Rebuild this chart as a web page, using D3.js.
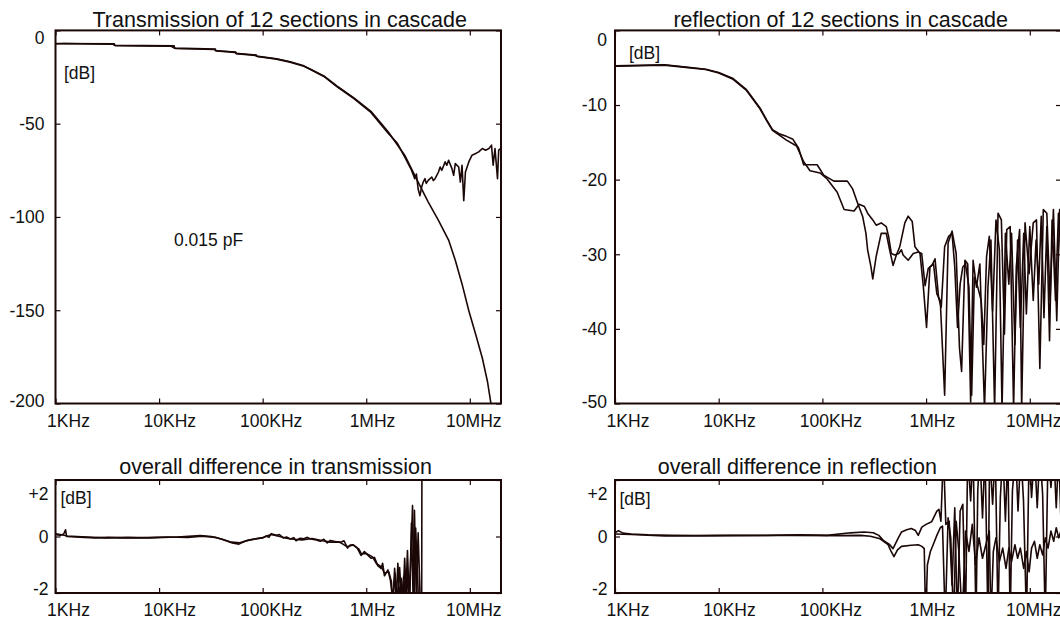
<!DOCTYPE html>
<html>
<head>
<meta charset="utf-8">
<script src="https://cdn.jsdelivr.net/npm/d3@7"></script>
<style>
  body { margin: 0; background: #fff; }
  svg text { font-family: "Liberation Sans", Arial, sans-serif; fill: #111; }
</style>
</head>
<body>
<svg id="chart" width="1060" height="619"></svg>
<script>
const FREQ_TICKS = [1e3, 1e4, 1e5, 1e6, 1e7];
const FREQ_LABELS = ["1KHz", "10KHz", "100KHz", "1MHz", "10MHz"];
const TRANS_TICKS = [0, -50, -100, -150, -200];
const REFL_TICKS = [0, -10, -20, -30, -40, -50];
const DIFF_TICKS = [2, 0, -2];
const DIFF_LABELS = ["+2", "0", "-2"];

// [frequency Hz, dB]
const transModel = [
  [1.0e3, -7.0], [3.7e3, -7.2], [3.7e3, -8.0], [1.4e4, -8.3], [1.4e4, -9.5], [3.5e4, -10.0], [3.5e4, -10.9],
  [5.5e4, -11.6], [5.5e4, -12.3], [8.7e4, -13.2], [8.7e4, -13.8], [1.36e5, -15.2], [1.84e5, -16.8],
  [2.5e5, -19.0], [2.9e5, -20.8], [3.9e5, -24.4], [5.2e5, -29.8], [7.6e5, -36.2], [1.11e6, -43.4],
  [1.62e6, -54.2], [2.35e6, -66.9], [3.17e6, -81.3], [3.69e6, -88.6], [3.97e6, -92.0], [4.98e6, -101.8],
  [6.24e6, -112.4], [7.24e6, -123.2], [8.41e6, -135.9], [9.78e6, -150.3], [1.14e7, -163.0],
  [1.32e7, -175.6], [1.48e7, -188.2], [1.59e7, -199.1], [1.65e7, -206.0]
];
const transMeasured = [
  [1.0e3, -7.3], [1.2e3, -7.0], [3.6e3, -7.4], [3.8e3, -8.2], [1.3e4, -8.5], [1.45e4, -9.7], [3.4e4, -10.2],
  [3.6e4, -11.0], [5.4e4, -11.8], [5.6e4, -12.5], [8.5e4, -13.4], [8.9e4, -14.0], [1.36e5, -15.4],
  [1.84e5, -17.0], [2.5e5, -19.2], [2.9e5, -21.0], [3.9e5, -24.7], [5.2e5, -30.1], [7.6e5, -36.6],
  [1.11e6, -44.0], [1.62e6, -55.0], [2.0e6, -60.5], [2.35e6, -67.8], [2.6e6, -72.5], [2.73e6, -74.8],
  [2.94e6, -79.5], [3.05e6, -77.0], [3.17e6, -85.0], [3.3e6, -88.6], [3.42e6, -84.1], [3.55e6, -81.3],
  [3.69e6, -79.5], [3.8e6, -82.0], [3.97e6, -80.4], [4.29e6, -78.6], [4.45e6, -80.5], [4.62e6, -79.5],
  [4.98e6, -75.9], [5.17e6, -73.2], [5.37e6, -75.0], [5.78e6, -70.5], [6.0e6, -72.3], [6.24e6, -69.6],
  [6.72e6, -74.1], [6.98e6, -77.7], [7.24e6, -71.4], [7.81e6, -73.2], [8.1e6, -81.3], [8.41e6, -72.3],
  [8.74e6, -91.3], [9.07e6, -75.9], [9.78e6, -70.5], [1.05e7, -66.9], [1.14e7, -66.0], [1.22e7, -65.1],
  [1.32e7, -63.3], [1.42e7, -64.2], [1.53e7, -63.3], [1.62e7, -61.5], [1.68e7, -72.3], [1.75e7, -63.3],
  [1.85e7, -79.5], [1.9e7, -64.2], [1.98e7, -63.3], [2.04e7, -66.9]
];
const reflA = [
  [1.0e3, -4.75], [3.0e3, -4.6], [4.8e3, -4.9], [7.5e3, -5.2], [1.0e4, -5.65], [1.36e4, -6.4], [1.84e4, -7.9],
  [2.5e4, -10.4], [2.9e4, -12.0], [3.3e4, -13.3], [3.9e4, -13.9], [4.5e4, -14.2], [5.2e4, -14.6],
  [5.9e4, -15.8], [6.6e4, -18.0], [8.9e4, -18.0], [1.03e5, -19.4], [1.29e5, -20.2], [1.74e5, -20.2],
  [1.95e5, -21.2], [2.18e5, -23.1], [2.44e5, -24.9], [2.63e5, -27.2], [2.73e5, -29.4], [2.94e5, -31.7],
  [3.06e5, -33.3], [3.3e5, -30.3], [3.69e5, -27.2], [4.13e5, -27.2], [4.45e5, -29.4], [4.8e5, -31.5],
  [5.17e5, -30.1], [5.57e5, -29.0], [6.24e5, -25.8], [6.72e5, -24.9], [7.35e5, -25.6], [7.81e5, -29.0],
  [8.74e5, -29.9], [9.42e5, -34.4], [1.01e6, -39.8], [1.09e6, -31.7], [1.18e6, -31.3], [1.27e6, -35.3],
  [1.37e6, -36.2], [1.51e6, -48.9], [1.63e6, -28.5], [1.78e6, -26.9], [1.95e6, -29.9], [2.1e6, -42.6],
  [2.2e6, -45.7], [2.37e6, -30.8], [2.52e6, -31.3], [2.69e6, -49.8], [2.84e6, -30.8], [3.06e6, -34.4],
  [3.3e6, -31.3], [3.66e6, -50.7], [3.95e6, -34.4], [4.22e6, -28.1], [4.58e6, -50.7], [4.94e6, -24.5],
  [5.32e6, -25.4], [5.7e6, -40.7], [6.0e6, -26.7], [6.47e6, -26.3], [6.98e6, -50.7], [7.41e6, -31.7],
  [7.98e6, -26.7], [8.35e6, -50.7], [9.0e6, -25.8], [9.85e6, -32.6], [1.08e7, -25.8], [1.16e7, -25.4],
  [1.25e7, -45.3], [1.35e7, -24.0], [1.46e7, -24.5], [1.57e7, -36.2], [1.69e7, -24.0], [1.82e7, -38.9],
  [1.94e7, -24.0], [2.0e7, -27.2]
];
const reflB = [
  [1.0e3, -4.8], [3.0e3, -4.65], [4.8e3, -4.95], [7.5e3, -5.25], [1.0e4, -5.7], [1.36e4, -6.5], [1.84e4, -8.0],
  [2.5e4, -10.5], [2.9e4, -12.1], [3.3e4, -13.4], [3.9e4, -14.1], [4.5e4, -14.7], [5.65e4, -15.5],
  [6.6e4, -17.6], [7.6e4, -18.8], [9.5e4, -19.1], [1.11e5, -19.9], [1.39e5, -21.7], [1.62e5, -24.0],
  [2.02e5, -24.2], [2.26e5, -23.3], [2.54e5, -23.6], [2.73e5, -24.5], [3.06e5, -25.4], [3.3e5, -26.1],
  [3.69e5, -25.8], [4.13e5, -26.3], [4.35e5, -27.6], [4.62e5, -29.9], [4.98e5, -30.1], [5.45e5, -29.9],
  [5.78e5, -29.4], [6.0e5, -30.1], [6.72e5, -30.8], [7.52e5, -29.9], [8.41e5, -29.7], [9.07e5, -29.9],
  [9.78e5, -34.2], [1.05e6, -31.9], [1.14e6, -31.5], [1.22e6, -30.6], [1.32e6, -35.8], [1.4e6, -37.1],
  [1.51e6, -29.0], [1.65e6, -27.6], [1.78e6, -27.2], [1.89e6, -31.7], [2.01e6, -39.8], [2.13e6, -34.0],
  [2.26e6, -31.7], [2.4e6, -31.3], [2.59e6, -34.4], [2.75e6, -48.9], [2.92e6, -33.1], [3.15e6, -34.4],
  [3.4e6, -36.2], [3.6e6, -42.1], [3.83e6, -30.3], [4.07e6, -27.6], [4.38e6, -37.6], [4.72e6, -25.4],
  [5.09e6, -29.4], [5.4e6, -50.7], [5.82e6, -27.2], [6.28e6, -34.0], [6.67e6, -27.2], [7.19e6, -42.1],
  [7.63e6, -28.1], [8.11e6, -39.8], [8.74e6, -27.2], [9.27e6, -38.0], [1.0e7, -26.3], [1.08e7, -36.2],
  [1.15e7, -28.1], [1.22e7, -34.0], [1.29e7, -24.9], [1.37e7, -38.5], [1.46e7, -26.3], [1.55e7, -41.6],
  [1.64e7, -25.4], [1.77e7, -36.2], [1.89e7, -24.5], [2.0e7, -30.0]
];
const diffTransA = [
  [1.0e3, 0.07], [1.12e3, 0.04], [1.2e3, 0.09], [1.25e3, 0.24], [1.28e3, 0.0], [1.9e3, -0.03], [2.4e3, -0.05],
  [3.2e3, -0.03], [4.3e3, -0.05], [6.3e3, -0.05], [9.1e3, -0.03], [1.2e4, -0.02], [1.9e4, -0.03],
  [2.6e4, 0.01], [3.5e4, -0.03], [4.1e4, -0.11], [5.1e4, -0.23], [5.9e4, -0.27], [6.9e4, -0.15],
  [8.7e4, -0.08], [1.0e5, -0.05], [1.08e5, 0.02], [1.15e5, -0.03], [1.21e5, 0.10], [1.36e5, 0.04],
  [1.45e5, 0.07], [1.58e5, -0.05], [1.7e5, -0.02], [1.84e5, -0.09], [2.0e5, -0.04], [2.1e5, -0.15],
  [2.3e5, -0.06], [2.5e5, -0.08], [2.7e5, -0.03], [2.9e5, -0.09], [3.3e5, -0.12], [3.6e5, -0.17],
  [3.9e5, -0.1], [4.2e5, -0.23], [4.5e5, -0.14], [4.9e5, -0.17], [5.6e5, -0.21], [6.1e5, -0.15],
  [6.6e5, -0.41], [7.0e5, -0.3], [7.4e5, -0.29], [8.2e5, -0.41], [8.9e5, -0.67], [9.6e5, -0.53],
  [1.03e6, -0.65], [1.11e6, -0.77], [1.2e6, -0.74], [1.29e6, -1.03], [1.39e6, -1.13], [1.44e6, -0.95],
  [1.5e6, -1.39], [1.62e6, -1.18], [1.71e6, -1.54], [1.81e6, -2.3], [1.88e6, -1.13], [1.95e6, -2.3],
  [2.02e6, -0.95], [2.1e6, -2.3], [2.18e6, -1.48], [2.26e6, -2.3], [2.35e6, -0.77], [2.44e6, -2.3],
  [2.54e6, -1.25], [2.63e6, -2.3], [2.73e6, 0.48], [2.84e6, -2.3], [2.92e6, 0.93], [3.05e6, -2.3],
  [3.17e6, 0.13], [3.32e6, -2.3], [3.43e6, -2.3], [3.45e6, 3.0]
];
const diffTransB = [
  [1.0e3, 0.1], [1.15e3, 0.06], [1.3e3, 0.02], [2.0e3, -0.02], [3.0e3, -0.05], [5.0e3, -0.03], [8.0e3, -0.05],
  [1.5e4, -0.02], [2.5e4, 0.03], [3.2e4, 0.0], [4.0e4, -0.09], [5.0e4, -0.2], [6.0e4, -0.22], [7.5e4, -0.12],
  [1.0e5, -0.04], [1.2e5, 0.07], [1.4e5, 0.02], [1.7e5, -0.06], [2.0e5, -0.1], [2.4e5, -0.12], [3.0e5, -0.07],
  [3.8e5, -0.15], [4.5e5, -0.2], [5.5e5, -0.19], [6.5e5, -0.36], [7.5e5, -0.3], [8.5e5, -0.45], [9.0e5, -0.62],
  [1.0e6, -0.6], [1.15e6, -0.72], [1.25e6, -0.95], [1.4e6, -1.08], [1.5e6, -1.3], [1.65e6, -1.25],
  [1.75e6, -1.6], [1.8e6, -2.3], [1.9e6, -1.3], [2.0e6, -2.3], [2.1e6, -1.1], [2.2e6, -2.3], [2.3e6, -1.4],
  [2.4e6, -2.3], [2.5e6, -0.5], [2.6e6, -2.3], [2.8e6, 1.1], [2.9e6, -2.3], [3.0e6, 0.3], [3.2e6, -2.3]
];
const diffReflA = [
  [1.0e3, 0.13], [1.08e3, 0.21], [1.19e3, 0.12], [1.43e3, 0.09], [2.09e3, 0.06], [3.5e3, 0.04], [6.4e3, 0.03],
  [1.36e4, 0.04], [2.9e4, 0.04], [6.1e4, 0.06], [1.11e5, 0.04], [1.87e5, 0.13], [2.52e5, 0.16], [3.1e5, 0.13],
  [3.5e5, 0.04], [3.9e5, -0.15], [4.4e5, -0.27], [4.8e5, -0.43], [5.4e5, -0.05], [5.8e5, 0.16], [6.5e5, 0.24],
  [7.2e5, 0.28], [7.9e5, 0.21], [8.4e5, 0.04], [9.1e5, 0.33], [1.0e6, 0.43], [1.13e6, 0.52], [1.27e6, 0.9],
  [1.33e6, 0.96], [1.39e6, 0.54], [1.47e6, 3.0], [1.55e6, 0.43], [1.67e6, 0.54], [1.78e6, -1.72],
  [1.89e6, 1.02], [2.0e6, -3.0], [2.13e6, 0.9], [2.26e6, 1.14], [2.4e6, -3.0], [2.52e6, 3.0], [2.69e6, 1.26],
  [2.84e6, 3.0], [3.03e6, -3.0], [3.15e6, 1.62], [3.3e6, 3.0], [3.5e6, 0.66], [3.7e6, 3.0], [3.95e6, -3.0],
  [4.1e6, 3.0], [4.38e6, 1.14], [4.65e6, 3.0], [4.94e6, -3.0], [5.2e6, 1.38], [5.5e6, 3.0], [5.82e6, 0.54],
  [6.14e6, 3.0], [6.47e6, -3.0], [6.8e6, 1.62], [7.3e6, 3.0], [7.7e6, 0.9], [8.2e6, 3.0], [8.7e6, 1.26],
  [9.3e6, -3.0], [9.85e6, 3.0], [1.04e7, 1.38], [1.11e7, 3.0], [1.18e7, 1.02], [1.25e7, 3.0], [1.33e7, 1.5],
  [1.41e7, -3.0], [1.5e7, 3.0], [1.6e7, 1.74], [1.7e7, 3.0], [1.8e7, 1.02], [1.9e7, 3.0], [2.0e7, 0.5]
];
const diffReflB = [
  [1.0e3, 0.09], [1.43e3, 0.07], [3.0e3, 0.02], [1.0e4, 0.03], [5.0e4, 0.04], [1.5e5, 0.03], [2.35e5, 0.04],
  [2.9e5, 0.01], [3.6e5, -0.08], [4.3e5, -0.29], [4.6e5, -0.53], [4.9e5, -0.71], [5.3e5, -0.47], [5.8e5, -0.35],
  [7.2e5, -0.31], [8.4e5, -0.29], [9.1e5, -0.35], [9.6e5, -0.43], [9.9e5, -3.0], [1.03e6, -1.0], [1.1e6, -0.53],
  [1.17e6, -0.29], [1.27e6, 0.04], [1.37e6, 0.31], [1.44e6, 0.37], [1.53e6, -3.0], [1.63e6, 0.66],
  [1.73e6, -0.05], [1.84e6, -3.0], [1.95e6, 0.54], [2.07e6, -0.53], [2.23e6, -3.0], [2.4e6, 0.19],
  [2.59e6, -0.53], [2.79e6, 0.43], [3.0e6, -1.0], [3.24e6, -0.05], [3.5e6, -0.77], [3.77e6, -0.29],
  [4.07e6, 0.19], [4.22e6, -3.0], [4.45e6, -0.53], [4.72e6, -0.05], [5.09e6, -0.89], [5.48e6, -0.41],
  [5.9e6, -1.13], [6.28e6, -0.41], [6.67e6, -0.89], [7.19e6, -0.29], [7.63e6, -0.77], [8.11e6, -0.41],
  [8.74e6, -1.13], [9.27e6, -0.53], [9.85e6, -1.25], [1.04e7, -0.41], [1.11e7, -0.17], [1.18e7, -0.77],
  [1.25e7, -0.29], [1.33e7, -0.65], [1.41e7, -0.05], [1.5e7, -0.41], [1.6e7, 0.19], [1.7e7, -0.17],
  [1.8e7, 0.31], [1.9e7, -0.05], [2.0e7, 0.2]
];

const LINE_COLOR = "#1c0707";
const FREQ_DOMAIN = [1e3, 2e7];

const panels = [
  {
    frame: [55.5, 501, 30.4, 403.5], yDomain: [-200, 0], yTicks: TRANS_TICKS, yLabels: TRANS_TICKS.map(String),
    title: "Transmission of 12 sections in cascade", titleDx: 1.5, titleY: 26.5,
    series: [transModel, transMeasured], unit: [8.5, 42], gap: 11, nudge: [7, 3]
  },
  {
    frame: [615, 1061, 30.4, 403.5], yDomain: [-50, 0], yTicks: REFL_TICKS, yLabels: REFL_TICKS.map(String),
    title: "reflection of 12 sections in cascade", titleDx: 2.7, titleY: 26.5,
    series: [reflA, reflB], unit: [14, 22], gap: 8, nudge: [9, 1.5]
  },
  {
    frame: [55.5, 501, 480, 593], yDomain: [-2, 2], yTicks: DIFF_TICKS, yLabels: DIFF_LABELS,
    title: "overall difference in transmission", titleDx: -2.7, titleY: 474,
    series: [diffTransA, diffTransB], unit: [5, 18], gap: 7, nudge: [14, 4.5]
  },
  {
    frame: [615, 1061, 480, 593], yDomain: [-2, 2], yTicks: DIFF_TICKS, yLabels: DIFF_LABELS,
    title: "overall difference in reflection", titleDx: -40.6, titleY: 474,
    series: [diffReflA, diffReflB], unit: [4.5, 18.5], gap: 7.5, nudge: [14, 4.5]
  }
];

const svg = d3.select("#chart");

panels.forEach((panel, i) => drawPanel(panel, i));

function drawPanel(panel, index) {
  const [x0, x1, y0, y1] = panel.frame;
  const x = d3.scaleLog().domain(FREQ_DOMAIN).range([x0, x1]);
  const y = d3.scaleLinear().domain(panel.yDomain).range([y1, y0]);
  // tick labels in the original sit a little right of their ticks
  const xLabel = d3.scaleLog().domain([1e3, 1e7]).range([x(1e3) + 13, x(1e7) + 4]);

  const g = svg.append("g");
  const clipId = `clip-${index}`;
  svg.append("clipPath").attr("id", clipId)
    .append("rect").attr("x", x0).attr("y", y0).attr("width", x1 - x0).attr("height", y1 - y0);

  const line = d3.line().x((d) => x(d[0])).y((d) => y(d[1]));
  g.append("g").attr("clip-path", `url(#${clipId})`)
    .selectAll("path")
    .data(panel.series)
    .join("path")
    .attr("d", line)
    .attr("fill", "none")
    .attr("stroke", LINE_COLOR)
    .attr("stroke-width", 1.6)
    .attr("stroke-linejoin", "round");

  const tickAxes = [
    [d3.axisBottom(x).tickValues(FREQ_TICKS), `translate(0,${y1})`],
    [d3.axisTop(x).tickValues(FREQ_TICKS), `translate(0,${y0})`],
    [d3.axisLeft(y).tickValues(panel.yTicks), `translate(${x0},0)`],
    [d3.axisRight(y).tickValues(panel.yTicks), `translate(${x1},0)`]
  ];
  for (const [axis, transform] of tickAxes) {
    const a = g.append("g").attr("transform", transform)
      .call(axis.tickSize(-5).tickFormat(""));
    a.select(".domain").remove();
    a.selectAll("line").attr("stroke", LINE_COLOR).attr("stroke-width", 1.2);
  }

  g.append("rect")
    .attr("x", x0).attr("y", y0).attr("width", x1 - x0).attr("height", y1 - y0)
    .attr("fill", "none").attr("stroke", LINE_COLOR).attr("stroke-width", 2);

  g.selectAll(".xlab")
    .data(FREQ_TICKS)
    .join("text")
    .attr("class", "xlab")
    .attr("x", (d) => xLabel(d))
    .attr("y", y1 + 23)
    .attr("text-anchor", "middle")
    .attr("font-size", 17.5)
    .text((d, i) => FREQ_LABELS[i]);

  g.selectAll(".ylab")
    .data(panel.yTicks)
    .join("text")
    .attr("class", "ylab")
    .attr("x", x0 - panel.gap)
    .attr("y", (d) => Math.min(Math.max(y(d), y0 + panel.nudge[0]), y1 - panel.nudge[1]))
    .attr("dy", "0.36em")
    .attr("text-anchor", "end")
    .attr("font-size", 17.5)
    .text((d, i) => panel.yLabels[i]);

  g.append("text")
    .attr("x", (x0 + x1) / 2 + panel.titleDx)
    .attr("y", panel.titleY)
    .attr("text-anchor", "middle")
    .attr("font-size", 21.5)
    .text(panel.title);

  g.append("text")
    .attr("x", x0 + panel.unit[0])
    .attr("y", y0 + panel.unit[1])
    .attr("dy", "0.36em")
    .attr("font-size", 17.5)
    .text("[dB]");

  if (index === 0) {
    g.append("text")
      .attr("x", 174)
      .attr("y", 240)
      .attr("dy", "0.36em")
      .attr("font-size", 17.5)
      .text("0.015 pF");
  }
}
</script>
</body>
</html>
